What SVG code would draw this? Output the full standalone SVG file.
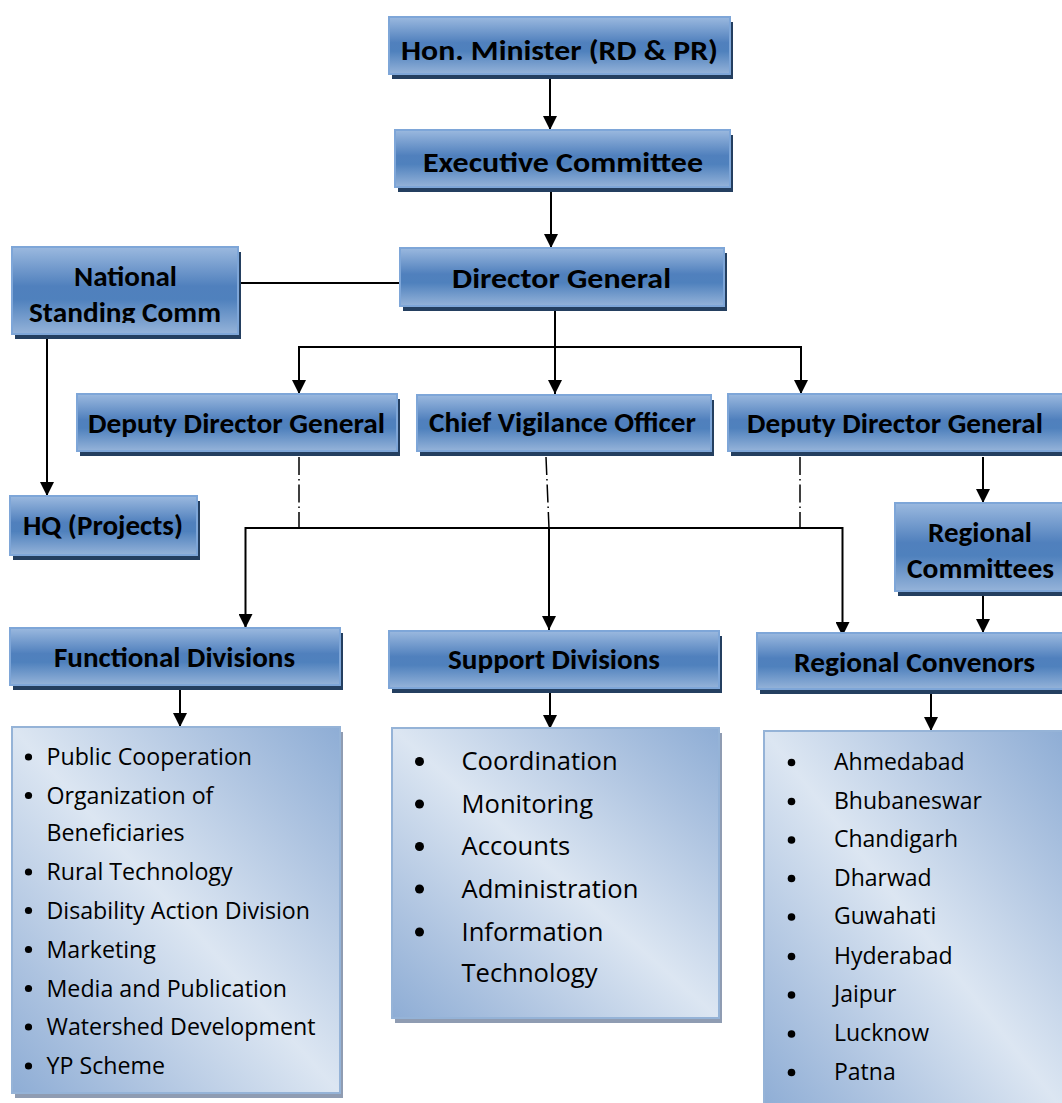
<svg xmlns="http://www.w3.org/2000/svg" width="1062" height="1103" viewBox="0 0 1062 1103">
<defs>
<linearGradient id="boxg" x1="0" y1="0" x2="0" y2="1">
<stop offset="0" stop-color="#9bb9df"/>
<stop offset="0.45" stop-color="#5080bd"/>
<stop offset="0.6" stop-color="#4f81bd"/>
<stop offset="1" stop-color="#95b3d9"/>
</linearGradient>
<linearGradient id="listg" x1="1" y1="0" x2="0" y2="1">
<stop offset="0" stop-color="#8eadd5"/>
<stop offset="0.2" stop-color="#adc3e0"/>
<stop offset="0.5" stop-color="#dce6f2"/>
<stop offset="0.8" stop-color="#adc3e0"/>
<stop offset="1" stop-color="#8eadd5"/>
</linearGradient>
<marker id="arr" markerUnits="userSpaceOnUse" markerWidth="14" markerHeight="14" refX="14" refY="7" orient="auto">
<path d="M0,0 L14,7 L0,14 Z" fill="#000"/>
</marker>
<clipPath id="nscclip"><rect x="0" y="240" width="260" height="83"/></clipPath>
</defs>
<style>
.sh{fill:#243f60}
.bx{fill:url(#boxg);stroke:#7ea6d8;stroke-width:2}
.lsh{fill:#8f9cb2}
.lb{fill:url(#listg);stroke:#95b3d7;stroke-width:2}
.t{font-family:Carlito,Calibri,Lato,"Liberation Sans",sans-serif;font-weight:bold;font-size:28.5px;fill:#000}
.li{font-family:"Open Sans","Noto Sans",sans-serif;font-size:23.2px;fill:#000}
.lr{font-family:"Open Sans","Noto Sans",sans-serif;font-size:23px;fill:#000}
.ls{font-family:"Open Sans","Noto Sans",sans-serif;font-size:25.6px;fill:#000}
.c{fill:none;stroke:#000;stroke-width:2}
.a{fill:none;stroke:#000;stroke-width:2;marker-end:url(#arr)}
.d{fill:none;stroke:#000;stroke-width:1.5;stroke-dasharray:18 4 1.5 4}
.b{fill:#000}
</style>

<g id="connectors">
<path class="a" d="M550,74 V130"/>
<path class="a" d="M551,187 V248"/>
<path class="c" d="M238,283 H400"/>
<path class="a" d="M47,335 V496"/>
<path class="c" d="M555,306 V347"/>
<path class="c" d="M299,347 H801"/>
<path class="a" d="M555,347 V394"/>
<path class="a" d="M299,346 V394"/>
<path class="a" d="M801,346 V394"/>
<path class="d" d="M299,457 V528"/>
<path class="d" d="M546,457 L549,528"/>
<path class="d" d="M800,457 V528"/>
<path class="c" d="M245,528 H843"/>
<path class="a" d="M245.5,527 V628"/>
<path class="a" d="M549,528 V630"/>
<path class="a" d="M842.5,527 V636"/>
<path class="a" d="M983,457 V503"/>
<path class="a" d="M983,591 V633"/>
<path class="a" d="M180,685 V727"/>
<path class="a" d="M550,688 V729"/>
<path class="a" d="M931,689 V731"/>
</g>

<g id="hon-minister">
<rect class="sh" x="392" y="22" width="341" height="57"/>
<rect class="bx" x="389" y="17" width="341" height="57"/>
<text class="t" x="401" y="60" textLength="317" lengthAdjust="spacingAndGlyphs">Hon. Minister (RD &amp; PR)</text>
</g>

<g id="executive-committee">
<rect class="sh" x="398" y="135" width="335" height="57"/>
<rect class="bx" x="395" y="130" width="335" height="57"/>
<text class="t" x="423" y="172" textLength="280" lengthAdjust="spacingAndGlyphs">Executive Committee</text>
</g>

<g id="director-general">
<rect class="sh" x="403" y="253" width="324" height="58"/>
<rect class="bx" x="400" y="248" width="324" height="58"/>
<text class="t" x="452" y="288" textLength="219" lengthAdjust="spacingAndGlyphs">Director General</text>
</g>

<g id="national-standing-comm">
<rect class="sh" x="15" y="252" width="226" height="87"/>
<rect class="bx" x="12" y="247" width="226" height="87"/>
<g clip-path="url(#nscclip)">
<text class="t" x="74" y="286" textLength="103" lengthAdjust="spacingAndGlyphs">National</text>
<text class="t" x="29" y="321.5" textLength="192" lengthAdjust="spacingAndGlyphs">Standing Comm</text>
</g>
</g>

<g id="hq-projects">
<rect class="sh" x="13" y="501" width="187" height="59"/>
<rect class="bx" x="10" y="496" width="187" height="59"/>
<text class="t" x="23" y="535" textLength="160" lengthAdjust="spacingAndGlyphs">HQ (Projects)</text>
</g>

<g id="deputy-director-general-1">
<rect class="sh" x="80" y="399" width="320" height="57"/>
<rect class="bx" x="77" y="394" width="320" height="57"/>
<text class="t" x="88" y="433" textLength="297" lengthAdjust="spacingAndGlyphs">Deputy Director General</text>
</g>

<g id="chief-vigilance-officer">
<rect class="sh" x="420" y="400" width="294" height="56"/>
<rect class="bx" x="417" y="395" width="294" height="56"/>
<text class="t" x="429" y="432" textLength="267" lengthAdjust="spacingAndGlyphs">Chief Vigilance Officer</text>
</g>

<g id="deputy-director-general-2">
<rect class="sh" x="731" y="399" width="340" height="57"/>
<rect class="bx" x="728" y="394" width="340" height="57"/>
<text class="t" x="747" y="433" textLength="296" lengthAdjust="spacingAndGlyphs">Deputy Director General</text>
</g>

<g id="regional-committees">
<rect class="sh" x="898" y="508" width="175" height="88"/>
<rect class="bx" x="895" y="503" width="175" height="88"/>
<text class="t" x="928" y="542" textLength="104" lengthAdjust="spacingAndGlyphs">Regional</text>
<text class="t" x="907" y="578" textLength="147" lengthAdjust="spacingAndGlyphs">Committees</text>
</g>

<g id="functional-divisions">
<rect class="sh" x="13" y="633" width="330" height="57"/>
<rect class="bx" x="10" y="628" width="330" height="57"/>
<text class="t" x="54" y="667" textLength="241" lengthAdjust="spacingAndGlyphs">Functional Divisions</text>
</g>

<g id="support-divisions">
<rect class="sh" x="392" y="636" width="330" height="57"/>
<rect class="bx" x="389" y="631" width="330" height="57"/>
<text class="t" x="448" y="669" textLength="212" lengthAdjust="spacingAndGlyphs">Support Divisions</text>
</g>

<g id="regional-convenors">
<rect class="sh" x="760" y="638" width="310" height="56"/>
<rect class="bx" x="757" y="633" width="310" height="56"/>
<text class="t" x="794" y="672" textLength="241" lengthAdjust="spacingAndGlyphs">Regional Convenors</text>
</g>

<g id="functional-list">
<rect class="lsh" x="15" y="732" width="328" height="366"/>
<rect class="lb" x="12" y="727" width="328" height="366"/>
<circle class="b" cx="28.5" cy="757" r="3.6"/>
<text class="li" x="46.5" y="765">Public Cooperation</text>
<circle class="b" cx="28.5" cy="795.5" r="3.6"/>
<text class="li" x="46.5" y="803.5">Organization of</text>
<text class="li" x="46.5" y="841">Beneficiaries</text>
<circle class="b" cx="28.5" cy="872" r="3.6"/>
<text class="li" x="46.5" y="880">Rural Technology</text>
<circle class="b" cx="28.5" cy="910.5" r="3.6"/>
<text class="li" x="46.5" y="918.5">Disability Action Division</text>
<circle class="b" cx="28.5" cy="949.5" r="3.6"/>
<text class="li" x="46.5" y="957.5">Marketing</text>
<circle class="b" cx="28.5" cy="988.5" r="3.6"/>
<text class="li" x="46.5" y="996.5">Media and Publication</text>
<circle class="b" cx="28.5" cy="1027" r="3.6"/>
<text class="li" x="46.5" y="1035">Watershed Development</text>
<circle class="b" cx="28.5" cy="1066" r="3.6"/>
<text class="li" x="46.5" y="1074">YP Scheme</text>
</g>

<g id="support-list">
<rect class="lsh" x="395" y="733" width="327" height="290"/>
<rect class="lb" x="392" y="728" width="327" height="290"/>
<circle class="b" cx="419.5" cy="761.5" r="4.5"/>
<text class="ls" x="461.5" y="770">Coordination</text>
<circle class="b" cx="419.5" cy="804" r="4.5"/>
<text class="ls" x="461.5" y="812.5">Monitoring</text>
<circle class="b" cx="419.5" cy="846.5" r="4.5"/>
<text class="ls" x="461.5" y="855">Accounts</text>
<circle class="b" cx="419.5" cy="889" r="4.5"/>
<text class="ls" x="461.5" y="897.5">Administration</text>
<circle class="b" cx="419.5" cy="932" r="4.5"/>
<text class="ls" x="461.5" y="940.5">Information</text>
<text class="ls" x="461.5" y="981.5">Technology</text>
</g>

<g id="regional-list">
<rect class="lsh" x="767" y="736" width="300" height="380"/>
<rect class="lb" x="764" y="731" width="300" height="380"/>
<circle class="b" cx="791.5" cy="762.5" r="3.8"/>
<text class="lr" x="834" y="769.5">Ahmedabad</text>
<circle class="b" cx="791.5" cy="801.5" r="3.8"/>
<text class="lr" x="834" y="808.5">Bhubaneswar</text>
<circle class="b" cx="791.5" cy="840" r="3.8"/>
<text class="lr" x="834" y="847">Chandigarh</text>
<circle class="b" cx="791.5" cy="878.5" r="3.8"/>
<text class="lr" x="834" y="885.5">Dharwad</text>
<circle class="b" cx="791.5" cy="917" r="3.8"/>
<text class="lr" x="834" y="924">Guwahati</text>
<circle class="b" cx="791.5" cy="956.5" r="3.8"/>
<text class="lr" x="834" y="963.5">Hyderabad</text>
<circle class="b" cx="791.5" cy="995" r="3.8"/>
<text class="lr" x="834" y="1002">Jaipur</text>
<circle class="b" cx="791.5" cy="1034" r="3.8"/>
<text class="lr" x="834" y="1041">Lucknow</text>
<circle class="b" cx="791.5" cy="1072.5" r="3.8"/>
<text class="lr" x="834" y="1079.5">Patna</text>
</g>
</svg>
